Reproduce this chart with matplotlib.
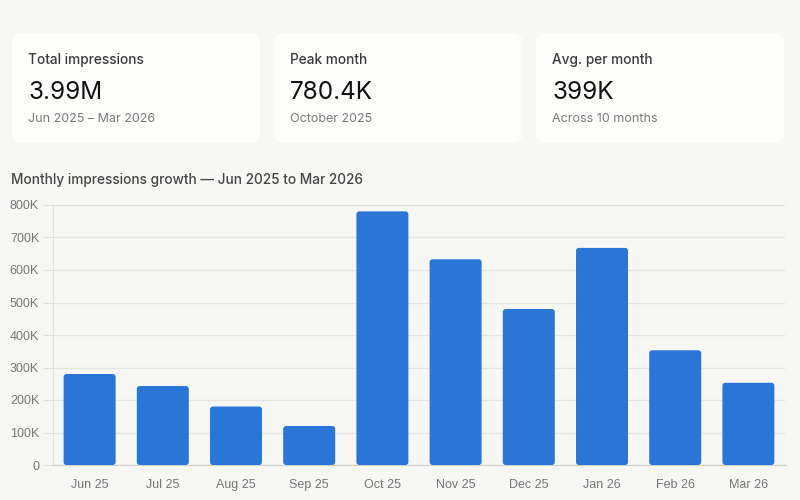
import matplotlib
matplotlib.use("Agg")
import matplotlib.pyplot as plt
from matplotlib.patches import FancyBboxPatch
from matplotlib.ticker import FuncFormatter

months = ["Jun 25", "Jul 25", "Aug 25", "Sep 25", "Oct 25", "Nov 25", "Dec 25", "Jan 26", "Feb 26", "Mar 26"]
impressions = [280000, 243000, 180000, 120000, 780400, 633000, 480000, 668000, 353000, 253000]
yticks = [0, 100000, 200000, 300000, 400000, 500000, 600000, 700000, 800000]

card_labels = ["Total impressions", "Peak month", "Avg. per month"]
card_values = ["3.99M", "780.4K", "399K"]
card_subs = ["Jun 2025 \u2013 Mar 2026", "October 2025", "Across 10 months"]
title = "Monthly impressions growth \u2014 Jun 2025 to Mar 2026"

BG = "#f7f7f5"
CARD = "#fdfdfc"
BAR = "#2976d6"

fig = plt.figure(figsize=(8, 5), dpi=100, facecolor=BG)

# pixel-space background axes for cards and titles
ax0 = fig.add_axes([0, 0, 1, 1], zorder=0)
ax0.set_xlim(0, 800)
ax0.set_ylim(500, 0)
ax0.axis("off")

card_x = [12, 274, 536]
card_w = 248
for i in range(3):
    x = card_x[i]
    ax0.add_patch(FancyBboxPatch((x, 33), card_w, 110,
                                 boxstyle="round,pad=0,rounding_size=9",
                                 facecolor=CARD, edgecolor="none"))
    ax0.text(x + 16, 60, card_labels[i], fontsize=9.8, color="#3a3a3a",
             family="Inter", weight="medium", va="center", ha="left")
    ax0.text(x + 16, 92.5, card_values[i], fontsize=17.5, color="#111111",
             family="Inter", va="center", ha="left")
    ax0.text(x + 16, 119, card_subs[i], fontsize=9, color="#7a7a7a",
             family="Inter", va="center", ha="left")

ax0.text(11, 180, title, fontsize=9.8, color="#454545", family="Inter",
         weight="medium", va="center", ha="left")

# chart axes
ax = fig.add_axes([53 / 800, 1 - 465 / 500, (785 - 53) / 800, (465 - 205) / 500], zorder=1)
ax.set_facecolor("none")
x = list(range(len(months)))
bars = ax.bar(x, impressions, width=0.71, color=BAR, zorder=3)
ax.set_xlim(-0.5, len(months) - 0.5)
ax.set_ylim(0, 800000)

# replace bars with rounded patches
for b in bars:
    bx, by = b.get_x(), b.get_y()
    bw, bh = b.get_width(), b.get_height()
    b.set_visible(False)
    ax.add_patch(FancyBboxPatch((bx, by), bw, bh,
                                boxstyle="round,pad=0,rounding_size=0.04",
                                mutation_aspect=225000,
                                facecolor=BAR, edgecolor="none", zorder=3))

ax.set_yticks(yticks)
ax.yaxis.set_major_formatter(FuncFormatter(lambda v, p: "0" if v == 0 else f"{int(v / 1000)}K"))
ax.set_xticks(x)
ax.set_xticklabels(months)
for lab in ax.get_xticklabels() + ax.get_yticklabels():
    lab.set_family("Liberation Sans")
    lab.set_fontsize(9)
    lab.set_color("#777777")

ax.grid(axis="y", color="#e4e4e0", linewidth=1, zorder=0)
ax.tick_params(axis="y", length=7, color="#e0e0dc", pad=3)
ax.tick_params(axis="x", length=0, pad=10)
for s in ["top", "right"]:
    ax.spines[s].set_visible(False)
ax.spines["left"].set_color("#e0e0dc")
ax.spines["bottom"].set_color("#cfcfcb")

fig.savefig("out.png", dpi=100, facecolor=BG)
